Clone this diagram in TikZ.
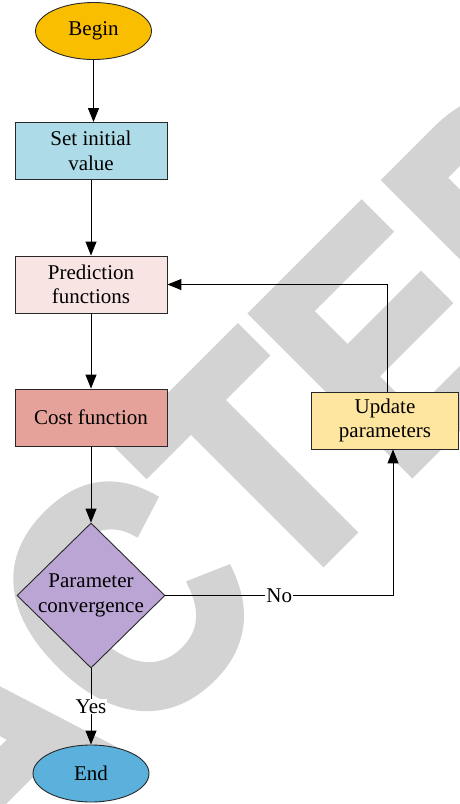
\documentclass[tikz,border=0pt]{standalone}
\usepackage{fontspec}
\setmainfont{Liberation Serif}
\newfontfamily\wmfont[Kerning=Off, FakeBold=3]{Liberation Sans}
\usetikzlibrary{shapes.geometric,arrows.meta}
\definecolor{beginfill}{RGB}{250,190,0}
\definecolor{initfill}{RGB}{173,219,231}
\definecolor{predfill}{RGB}{249,228,228}
\definecolor{costfill}{RGB}{229,162,155}
\definecolor{updfill}{RGB}{254,230,160}
\definecolor{convfill}{RGB}{187,165,213}
\definecolor{endfill}{RGB}{91,177,219}
\definecolor{wmgray}{RGB}{211,211,211}
\definecolor{edge}{RGB}{40,40,40}
\tikzset{
  box/.style={draw=edge, line width=0.9pt, rectangle, minimum width=152pt, minimum height=57pt, inner sep=0pt, align=center},
  oval/.style={draw=edge, line width=0.9pt, ellipse, minimum width=116pt, minimum height=57pt, inner sep=0pt},
  flow/.style={draw=black, line width=1pt, -{Triangle[length=14pt,width=11pt]}},
  tag/.style={fill=white, inner sep=1pt},
}
\begin{document}
\begin{tikzpicture}[x=1pt, y=-1pt, font=\fontsize{21}{24.5}\selectfont]
\useasboundingbox (0,0) rectangle (459,804);
% watermark lettering behind the chart
\node[text=wmgray, anchor=base, rotate=45, xscale=0.87, inner sep=0pt] (stamp) at (60,824)
  {\wmfont\bfseries\fontsize{325}{325}\selectfont RETRACTED};

% flowchart nodes
\node[oval, fill=beginfill] (begin) at (93.5,31) {Begin};
\node[box, fill=initfill] (init) at (91,151) {Set initial\\value};
\node[box, fill=predfill] (pred) at (91,284.5) {Prediction\\functions};
\node[box, fill=costfill] (cost) at (91,417.5) {Cost function};
\node[box, fill=updfill, minimum width=147pt] (upd) at (385,420.5) {Update\\parameters};
\node[draw=edge, line width=0.9pt, diamond, fill=convfill, minimum width=148pt, minimum height=145pt, inner sep=0pt] (conv) at (91,595.5) {};
\node[align=center] (convtext) at (conv.center) {Parameter\\convergence};
\node[oval, fill=endfill] (end) at (91,773.5) {End};

\coordinate (nocorner) at (393,595.5);
\coordinate (backcorner) at (387,284.5);

% connectors
\draw[flow] (begin.south) -- (begin.south |- init.north);
\draw[flow] (init.south) -- (pred.north);
\draw[flow] (pred.south) -- (cost.north);
\draw[flow] (cost.south) -- (conv.north);
\draw[flow] (conv.south) -- node[tag] (yes) {Yes} (end.north);
\draw[flow] (conv.east) -- node[tag] (no) {No} (nocorner) -- (nocorner |- upd.south);
\draw[flow] (backcorner |- upd.north) -- (backcorner) -- (pred.east);
\end{tikzpicture}
\end{document}
